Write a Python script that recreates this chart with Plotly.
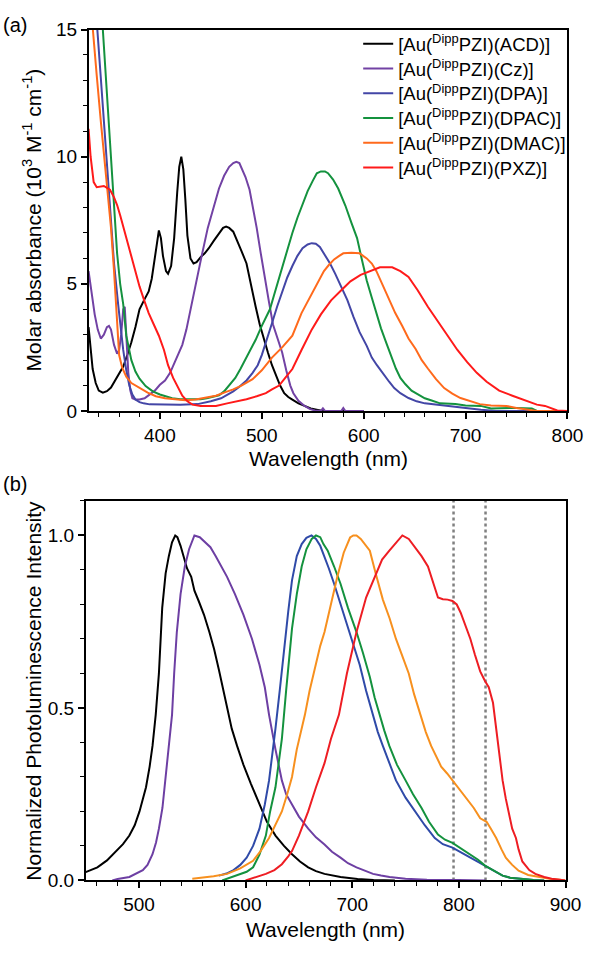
import plotly.graph_objects as go

# ---------------- (a) absorption data ----------------
acd_abs_x = [330, 332, 334, 337, 340, 344, 348, 352, 356, 360, 364, 368, 372, 376, 380, 385, 389, 392, 395, 397, 399, 401, 403, 406, 408, 411, 414, 417, 419, 421, 423, 425, 427, 430, 433, 436, 440, 444, 448, 453, 458, 462, 465, 468, 472, 476, 480, 485, 490, 494, 498, 502, 506, 510, 514, 518, 522, 526, 530, 536, 542, 548, 555, 560, 600]
acd_abs_y = [3.3, 2.4, 1.65, 1.1, 0.8, 0.72, 0.78, 0.92, 1.2, 1.5, 1.75, 2.2, 2.7, 3.3, 4.0, 4.4, 4.7, 5.2, 6.0, 6.7, 7.1, 6.8, 6.1, 5.5, 5.4, 5.7, 6.8, 8.6, 9.6, 10.0, 9.5, 8.3, 6.9, 6.0, 5.8, 5.85, 6.05, 6.2, 6.4, 6.7, 7.0, 7.2, 7.25, 7.2, 7.05, 6.7, 6.3, 5.8, 4.8, 4.1, 3.4, 2.8, 2.3, 1.8, 1.4, 1.0, 0.7, 0.55, 0.45, 0.3, 0.2, 0.1, 0.04, 0.0, 0.0]

cz_abs_x = [330, 333, 336, 339, 342, 345, 348, 350, 352, 355, 358, 360, 362, 364, 365.5, 367, 369, 371, 373, 376, 380, 385, 390, 395, 400, 405, 410, 414, 418, 422, 426, 431, 436, 441, 447, 453, 458, 463, 468, 472, 475, 478, 481, 484, 488, 491, 495, 499, 503, 507, 511, 515, 520, 524, 528, 531, 536, 542, 547, 552, 558, 560, 562, 578, 580, 582, 600]
cz_abs_y = [5.5, 4.6, 3.8, 3.2, 2.85, 3.0, 3.3, 3.35, 3.2, 2.6, 2.25, 2.4, 3.0, 4.0, 4.1, 3.0, 1.5, 0.8, 0.5, 0.45, 0.45, 0.5, 0.65, 0.8, 1.03, 1.2, 1.5, 1.85, 2.2, 2.6, 3.2, 4.2, 5.2, 6.1, 7.2, 8.1, 8.75, 9.25, 9.6, 9.75, 9.8, 9.75, 9.5, 9.2, 8.7, 8.1, 7.2, 6.2, 5.2, 4.3, 3.4, 2.9, 2.3, 1.6, 1.0, 0.7, 0.4, 0.2, 0.08, 0.02, 0.0, 0.1, 0.0, 0.0, 0.12, 0.0, 0.0]

dpa_abs_x = [330, 334, 338.6, 342, 346, 351, 355, 359, 362, 364, 367, 370, 373, 376, 380, 384, 390, 400, 420, 437, 441, 450, 460, 466, 472, 478, 485, 491, 496, 500, 505, 510, 515, 520, 525, 530, 535, 540, 545, 549, 553, 557, 562, 567, 572, 578, 584, 590, 596, 603, 608, 613, 619, 625, 630, 636, 644, 652, 660, 670, 680, 690, 700, 715, 730, 800]
dpa_abs_y = [19.0, 17.2, 15.0, 13.1, 10.8, 8.1, 5.8, 4.2, 3.1, 2.4, 1.6, 1.0, 0.65, 0.45, 0.35, 0.3, 0.26, 0.25, 0.25, 0.27, 0.3, 0.38, 0.5, 0.62, 0.77, 0.95, 1.2, 1.5, 1.8, 2.2, 2.8, 3.45, 4.1, 4.7, 5.25, 5.7, 6.1, 6.4, 6.55, 6.6, 6.58, 6.45, 6.15, 5.8, 5.4, 4.9, 4.36, 3.7, 3.1, 2.56, 2.1, 1.8, 1.45, 1.15, 0.9, 0.7, 0.51, 0.38, 0.3, 0.25, 0.2, 0.15, 0.1, 0.05, 0.0, 0.0]

dpac_abs_x = [330, 335, 340, 344, 348, 351, 354.5, 358, 361, 364, 367, 370, 372, 376, 380, 386, 393, 400, 405, 412, 420, 430, 440, 446, 452, 458, 463, 468, 474, 479, 485, 490, 494, 500, 505, 508, 512, 516, 520, 525, 530, 535, 540, 545, 550, 554, 558, 562, 565, 570, 575, 582, 588, 593.5, 598, 603, 608, 612.5, 617, 622, 627, 631.6, 636, 641, 647, 654, 660, 666, 675, 690, 700, 715, 725, 750, 765, 770, 800]
dpac_abs_y = [21.0, 18.5, 16.3, 15.0, 12.4, 10.3, 8.1, 6.2, 5.0, 4.2, 2.96, 2.4, 2.0, 1.55, 1.27, 0.98, 0.77, 0.65, 0.58, 0.5, 0.46, 0.45, 0.46, 0.5, 0.56, 0.62, 0.77, 1.0, 1.3, 1.65, 2.1, 2.45, 2.8, 3.35, 3.75, 4.0, 4.55, 5.1, 5.6, 6.3, 7.0, 7.6, 8.15, 8.65, 9.05, 9.35, 9.42, 9.42, 9.35, 9.1, 8.75, 8.08, 7.4, 6.8, 6.0, 5.13, 4.45, 3.85, 3.25, 2.7, 2.15, 1.67, 1.3, 1.05, 0.8, 0.62, 0.5, 0.42, 0.3, 0.27, 0.22, 0.2, 0.1, 0.12, 0.1, 0.0, 0.0]

dmac_abs_x = [330, 334, 338, 342, 346, 350, 352, 355, 357, 360, 363, 367, 372, 380, 388, 396, 405, 415, 425, 435, 445, 455, 465, 472, 480, 491, 500, 510, 520, 530, 539, 549, 555, 561, 566, 571, 576, 580, 588, 596, 603, 608, 612.5, 618, 625, 631, 638, 644, 651, 657, 663, 671, 679, 687, 695, 703, 714, 725, 740, 750, 760, 770, 800]
dmac_abs_y = [17.0, 15.0, 13.2, 11.4, 9.6, 8.0, 7.2, 5.5, 4.0, 2.2, 1.7, 1.35, 1.1, 0.9, 0.72, 0.58, 0.5, 0.46, 0.42, 0.45, 0.52, 0.6, 0.75, 0.85, 1.0, 1.25, 1.6, 2.1, 2.5, 2.96, 3.85, 4.6, 5.1, 5.5, 5.75, 5.96, 6.1, 6.2, 6.22, 6.2, 6.0, 5.8, 5.5, 5.0, 4.36, 3.85, 3.33, 2.85, 2.44, 2.0, 1.67, 1.25, 0.9, 0.68, 0.51, 0.4, 0.27, 0.22, 0.2, 0.12, 0.05, 0.0, 0.0]

pxz_abs_x = [330, 332, 335, 338, 345, 351, 355, 358, 361, 365, 370, 375, 380, 385, 389, 394, 399, 404, 408, 413, 418, 422, 427, 432, 440, 455, 466, 475, 485, 495, 504, 510, 517, 523, 530, 539, 549, 558, 568, 578, 587, 597, 606, 616, 628, 636, 644, 653, 663, 673, 682.5, 692, 701.6, 711, 720.7, 733, 746, 759, 770, 778, 785, 790, 800]
pxz_abs_y = [11.1, 10.0, 9.0, 8.8, 8.85, 8.7, 8.4, 8.1, 7.7, 7.1, 6.4, 5.6, 4.9, 4.3, 3.85, 3.4, 2.96, 2.4, 1.8, 1.3, 0.9, 0.6, 0.38, 0.25, 0.2, 0.2, 0.3, 0.38, 0.46, 0.58, 0.7, 0.85, 1.0, 1.3, 1.65, 2.4, 3.2, 3.8, 4.35, 4.75, 5.1, 5.35, 5.5, 5.65, 5.65, 5.5, 5.27, 4.75, 4.1, 3.5, 2.96, 2.4, 1.92, 1.5, 1.15, 0.8, 0.6, 0.4, 0.25, 0.2, 0.1, 0.02, 0.0]

# ---------------- (b) photoluminescence data ----------------
acd_pl_x = [450, 455, 461, 470, 479, 485, 491, 496, 500.5, 504, 506.6, 510, 512.7, 515.7, 518.7, 521.8, 525, 528, 531, 534, 536, 539, 542, 545, 549, 552, 556, 561, 566, 570.5, 575, 579, 583, 587, 592, 598, 605, 613, 620, 628, 636, 643.5, 651, 658.7, 666, 674, 689, 705, 720, 740]
acd_pl_y = [0.024, 0.03, 0.038, 0.058, 0.085, 0.105, 0.13, 0.16, 0.2, 0.24, 0.27, 0.33, 0.39, 0.48, 0.6, 0.79, 0.89, 0.94, 0.98, 1.0, 0.995, 0.97, 0.935, 0.905, 0.88, 0.84, 0.81, 0.77, 0.72, 0.67, 0.61, 0.55, 0.49, 0.44, 0.39, 0.335, 0.28, 0.22, 0.17, 0.13, 0.1, 0.076, 0.055, 0.038, 0.027, 0.019, 0.01, 0.004, 0.001, 0.0]

cz_pl_x = [475, 480, 491, 498, 503.6, 508, 512.7, 516, 518.7, 522, 524.8, 527, 529.4, 531, 533, 535.5, 539, 543, 547, 552, 557, 562, 567, 572, 577, 582.6, 590, 598, 606, 613, 618, 622, 628, 634, 638, 643.5, 650, 658.7, 666, 674, 681, 689, 696, 704, 712, 719.5, 727, 735, 750, 770, 800, 825]
cz_pl_y = [0.0, 0.004, 0.01, 0.02, 0.03, 0.045, 0.076, 0.11, 0.15, 0.21, 0.29, 0.36, 0.44, 0.48, 0.6, 0.72, 0.83, 0.91, 0.96, 1.0, 0.995, 0.98, 0.966, 0.94, 0.91, 0.88, 0.83, 0.77, 0.7, 0.625, 0.56, 0.48, 0.38, 0.29, 0.25, 0.22, 0.185, 0.15, 0.125, 0.104, 0.083, 0.066, 0.05, 0.038, 0.027, 0.019, 0.014, 0.01, 0.005, 0.002, 0.001, 0.0]

dpa_pl_x = [575, 582, 588.7, 595, 601, 607, 613, 618, 622, 625, 628, 632, 636, 640, 643.5, 648, 652.6, 657, 661.8, 666, 670, 674, 678, 683, 689, 695, 701, 707, 713, 719.5, 724, 728.7, 735, 741, 750, 759, 768, 777.4, 785, 794, 802, 810.8, 818, 824.5, 833, 841, 848, 856, 870, 880]
dpa_pl_y = [0.014, 0.02, 0.03, 0.045, 0.066, 0.1, 0.15, 0.22, 0.29, 0.36, 0.44, 0.55, 0.67, 0.78, 0.87, 0.94, 0.975, 0.993, 1.0, 0.99, 0.97, 0.94, 0.905, 0.86, 0.8, 0.74, 0.68, 0.625, 0.55, 0.48, 0.43, 0.39, 0.34, 0.29, 0.24, 0.2, 0.16, 0.123, 0.105, 0.095, 0.08, 0.066, 0.054, 0.043, 0.027, 0.014, 0.008, 0.005, 0.001, 0.0]

dpac_pl_x = [578, 585, 595, 601, 607, 613, 619, 623, 628, 631, 634, 638, 641, 643.5, 648, 652.6, 657, 662, 666, 670, 673, 677, 683, 689, 696, 704, 710, 716.5, 721, 725.6, 730, 734.8, 742, 750, 757, 765, 772, 780.4, 787, 794, 802, 810.8, 818, 824.5, 833, 841, 848, 856, 870, 880]
dpac_pl_y = [0.0, 0.008, 0.018, 0.025, 0.038, 0.075, 0.13, 0.2, 0.27, 0.34, 0.41, 0.55, 0.65, 0.73, 0.83, 0.91, 0.96, 0.99, 1.0, 0.995, 0.975, 0.956, 0.91, 0.86, 0.79, 0.72, 0.66, 0.59, 0.53, 0.48, 0.435, 0.39, 0.335, 0.29, 0.25, 0.21, 0.17, 0.133, 0.118, 0.109, 0.093, 0.076, 0.06, 0.043, 0.027, 0.014, 0.008, 0.005, 0.001, 0.0]

dmac_pl_x = [550, 560, 570, 582.6, 595, 607, 614, 622, 628, 634, 639, 643.5, 648, 652.6, 655.6, 660, 665, 670, 674, 680, 686, 692, 698, 701, 704, 708, 712, 716.5, 722, 728.7, 735, 741, 747, 753, 758, 763.7, 769, 774, 779, 783.4, 789, 794, 801, 808, 814, 820, 826, 830, 835, 840, 844, 850, 856, 865, 874.7, 885, 895, 900]
dmac_pl_y = [0.005, 0.008, 0.012, 0.019, 0.035, 0.057, 0.085, 0.123, 0.16, 0.2, 0.25, 0.3, 0.38, 0.44, 0.48, 0.55, 0.62, 0.68, 0.72, 0.8, 0.88, 0.95, 0.994, 1.0, 1.0, 0.99, 0.975, 0.956, 0.89, 0.814, 0.76, 0.7, 0.65, 0.6, 0.54, 0.48, 0.43, 0.39, 0.36, 0.33, 0.31, 0.29, 0.265, 0.237, 0.21, 0.18, 0.17, 0.15, 0.123, 0.09, 0.066, 0.045, 0.028, 0.016, 0.01, 0.005, 0.002, 0.0]

pxz_pl_x = [600, 610, 619, 627, 634, 640, 643.5, 650, 658.7, 666, 674, 680, 687.5, 695, 704, 713, 722.6, 728, 734.8, 741, 747, 753, 759, 765, 771, 776, 780.4, 785, 789.5, 794, 798, 801.7, 806, 810.8, 815, 820, 824.5, 828, 832, 835, 838, 841, 844, 847, 850, 853.5, 856, 859.5, 866, 871.7, 880, 887, 900]
pxz_pl_y = [0.0, 0.01, 0.019, 0.03, 0.047, 0.07, 0.085, 0.13, 0.2, 0.27, 0.34, 0.41, 0.48, 0.6, 0.72, 0.82, 0.89, 0.93, 0.956, 0.98, 1.0, 0.99, 0.966, 0.94, 0.91, 0.86, 0.82, 0.815, 0.814, 0.81, 0.8, 0.776, 0.74, 0.7, 0.655, 0.606, 0.578, 0.56, 0.515, 0.44, 0.36, 0.29, 0.237, 0.19, 0.15, 0.123, 0.09, 0.055, 0.03, 0.019, 0.01, 0.005, 0.0]

dotted_lines = [795, 825]

names = ["[Au(<sup>Dipp</sup>PZI)(ACD)]", "[Au(<sup>Dipp</sup>PZI)(Cz)]", "[Au(<sup>Dipp</sup>PZI)(DPA)]",
         "[Au(<sup>Dipp</sup>PZI)(DPAC)]", "[Au(<sup>Dipp</sup>PZI)(DMAC)]", "[Au(<sup>Dipp</sup>PZI)(PXZ)]"]
colors_a = ["#000000", "#7242a4", "#4346a6", "#14923e", "#ff6a1c", "#ff1a1a"]
colors_b = ["#000000", "#6d3fa3", "#2f4aa8", "#14923e", "#f7901e", "#ee1d23"]

abs_sets = [(acd_abs_x, acd_abs_y), (cz_abs_x, cz_abs_y), (dpa_abs_x, dpa_abs_y),
            (dpac_abs_x, dpac_abs_y), (dmac_abs_x, dmac_abs_y), (pxz_abs_x, pxz_abs_y)]
pl_sets = [(acd_pl_x, acd_pl_y), (cz_pl_x, cz_pl_y), (dpa_pl_x, dpa_pl_y),
           (dpac_pl_x, dpac_pl_y), (dmac_pl_x, dmac_pl_y), (pxz_pl_x, pxz_pl_y)]

FONT = "Arial, 'Liberation Sans', sans-serif"
TICK_SIZE = 19
TITLE_SIZE = 21
LEGEND_SIZE = 18.5
H = 955.0
W = 600.0

fig = go.Figure()

legend_ids = ["legend", "legend2", "legend3", "legend4", "legend5", "legend6"]
for i, ((x, y), n, c) in enumerate(zip(abs_sets, names, colors_a)):
    fig.add_trace(go.Scatter(x=x, y=y, mode="lines", name=n, line=dict(color=c, width=2),
                             xaxis="x", yaxis="y", showlegend=True, legend=legend_ids[i]))

for xv in dotted_lines:
    fig.add_trace(go.Scatter(x=[xv, xv], y=[0, 1.1], mode="lines", line=dict(color="#808080", width=2.5, dash="dot"),
                             xaxis="x2", yaxis="y2", showlegend=False, hoverinfo="skip"))

for (x, y), n, c in zip(pl_sets, names, colors_b):
    fig.add_trace(go.Scatter(x=x, y=y, mode="lines", name=n, line=dict(color=c, width=2),
                             xaxis="x2", yaxis="y2", showlegend=False))

axis_common = dict(showline=True, linecolor="black", linewidth=1.5, mirror=True, ticks="outside",
                   ticklen=6, tickwidth=1.5, tickcolor="black", showgrid=False, zeroline=False,
                   tickfont=dict(family=FONT, size=TICK_SIZE, color="black"))

layout_kw = dict(
    width=600, height=955,
    margin=dict(l=0, r=0, t=0, b=0),
    paper_bgcolor="white", plot_bgcolor="white",
    font=dict(family=FONT, color="black"),
    xaxis=dict(domain=[91 / W, 583 / W], range=[330, 800], anchor="y", tick0=400, dtick=100,
               minor=dict(dtick=20, ticks="outside", ticklen=4, tickwidth=1.2, tickcolor="black"),
               **axis_common),
    yaxis=dict(domain=[1 - 410 / H, 1 - 20 / H], range=[0, 15], anchor="x", tick0=0, dtick=5,
               minor=dict(dtick=1, ticks="outside", ticklen=4, tickwidth=1.2, tickcolor="black"),
               **axis_common),
    xaxis2=dict(domain=[88 / W, 581 / W], range=[450, 900], anchor="y2", tick0=500, dtick=100,
                minor=dict(dtick=20, ticks="outside", ticklen=4, tickwidth=1.2, tickcolor="black"),
                **axis_common),
    yaxis2=dict(domain=[1 - 890 / H, 1 - 502 / H], range=[0, 1.1], anchor="x2", tick0=0, dtick=0.5,
                tickformat=".1f",
                minor=dict(dtick=0.1, ticks="outside", ticklen=4, tickwidth=1.2, tickcolor="black"),
                **axis_common),
    showlegend=True,
)
# one legend box per entry so the row spacing matches the reference (about 25 px)
for i, lid in enumerate(legend_ids):
    layout_kw[lid] = dict(x=368 / W, y=1 - (35 + 25.3 * i) / H, xanchor="left", yanchor="middle",
                          bgcolor="rgba(0,0,0,0)",
                          font=dict(family=FONT, size=LEGEND_SIZE, color="black"))
fig.update_layout(**layout_kw)

ann = [
    dict(text="(a)", x=1 / W, y=1 - 15 / H, xanchor="left", yanchor="middle", font_size=20),
    dict(text="(b)", x=1 / W, y=1 - 485 / H, xanchor="left", yanchor="middle", font_size=20),
    dict(text="Molar absorbance (10<sup>3</sup> M<sup>-1</sup> cm<sup>-1</sup>)", x=33 / W, y=1 - 215 / H,
         xanchor="center", yanchor="middle", textangle=-90, font_size=TITLE_SIZE),
    dict(text="Normalized Photoluminescence Intensity", x=35 / W, y=1 - 696 / H,
         xanchor="center", yanchor="middle", textangle=-90, font_size=TITLE_SIZE),
    dict(text="Wavelength (nm)", x=337 / W, y=1 - 459 / H, xanchor="center", yanchor="middle", font_size=TITLE_SIZE),
    dict(text="Wavelength (nm)", x=334 / W, y=1 - 940 / H, xanchor="center", yanchor="middle", font_size=TITLE_SIZE),
]
for a in ann:
    fig.add_annotation(xref="paper", yref="paper", showarrow=False,
                       font=dict(family=FONT, color="black", size=a.pop("font_size")), **a)

fig.write_html("out.html", config={"displayModeBar": False},
               post_script="document.body.style.margin='0';document.body.style.overflow='hidden';")
